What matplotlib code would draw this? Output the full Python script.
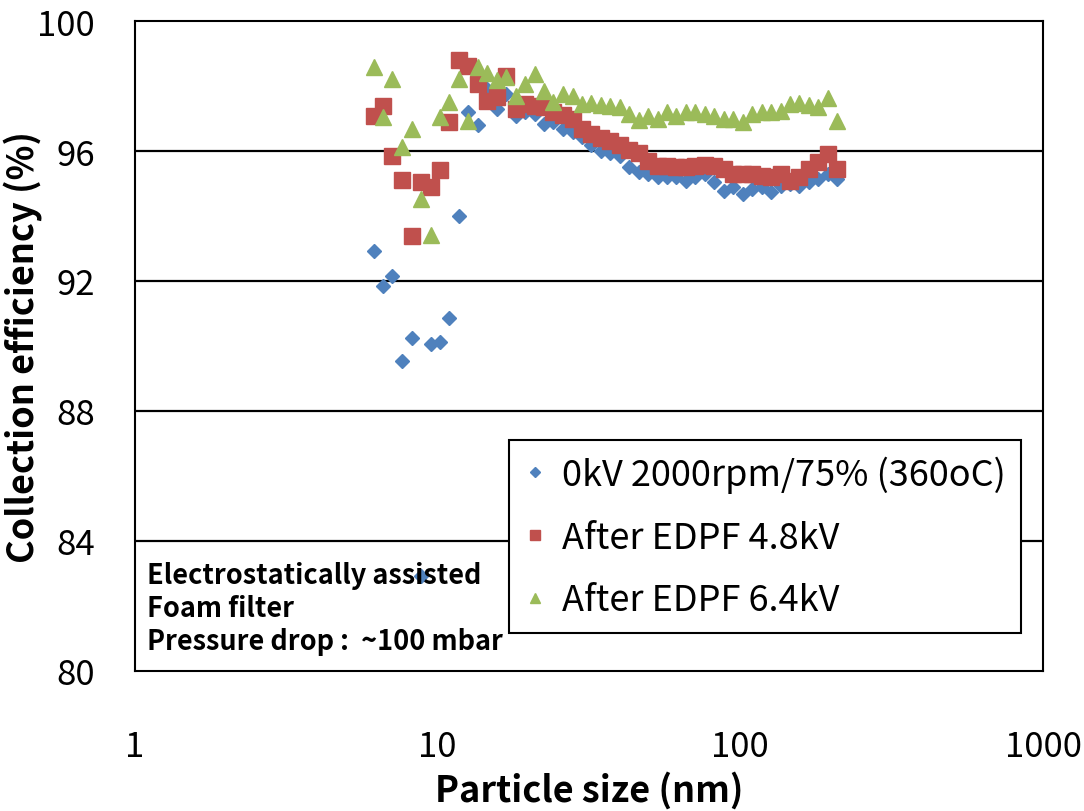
import matplotlib
matplotlib.use("Agg")
import matplotlib.pyplot as plt
from matplotlib.ticker import FixedLocator, NullLocator, FixedFormatter

plt.rcParams['font.family'] = ['Noto Sans CJK KR', 'DejaVu Sans']

# Particle size channels (nm)
size_nm = [6.15, 6.61, 7.09, 7.64, 8.20, 8.81, 9.47, 10.2, 10.9, 11.8,
           12.6, 13.6, 14.6, 15.7, 16.8, 18.1, 19.5, 20.9, 22.5, 24.1,
           25.9, 27.9, 30.0, 32.2, 34.6, 37.2, 40.0, 43.0, 46.1, 49.6,
           53.3, 57.3, 61.5, 66.1, 71.0, 76.4, 82.0, 88.2, 94.7, 101.8,
           109.4, 117.6, 126.3, 135.8, 145.9, 156.8, 168.5, 181.1, 194.6, 209.1]

eff_0kv = [92.91, 91.84, 92.14, 89.55, 90.26, 82.92, 90.05, 90.11, 90.85, 94.01,
           97.19, 96.80, 97.90, 97.30, 97.75, 97.08, 97.20, 97.14, 96.83, 96.90,
           96.68, 96.60, 96.43, 96.20, 96.00, 95.95, 95.86, 95.50, 95.34, 95.30,
           95.19, 95.19, 95.19, 95.09, 95.19, 95.29, 95.04, 94.78, 94.88, 94.68,
           94.83, 94.88, 94.73, 94.93, 94.98, 94.93, 95.04, 95.14, 95.29, 95.14]

eff_48kv = [97.09, 97.40, 95.86, 95.10, 93.37, 95.04, 94.88, 95.41, 96.88, 98.81,
            98.63, 98.06, 97.55, 97.65, 98.32, 97.30, 97.45, 97.40, 97.35, 97.20,
            97.10, 96.98, 96.68, 96.52, 96.40, 96.30, 96.20, 96.03, 95.93, 95.70,
            95.55, 95.55, 95.50, 95.50, 95.55, 95.57, 95.55, 95.45, 95.30, 95.30,
            95.29, 95.24, 95.19, 95.29, 95.09, 95.19, 95.45, 95.65, 95.90, 95.45]

eff_64kv = [98.58, 97.04, 98.22, 96.11, 96.68, 94.52, 93.42, 97.04, 97.50, 98.22,
            96.93, 98.58, 98.40, 98.20, 98.28, 97.70, 98.06, 98.37, 97.86, 97.50,
            97.75, 97.70, 97.45, 97.48, 97.42, 97.37, 97.34, 97.14, 96.96, 97.07,
            97.00, 97.19, 97.07, 97.19, 97.19, 97.14, 97.07, 96.98, 96.98, 96.88,
            97.14, 97.19, 97.19, 97.24, 97.45, 97.48, 97.42, 97.34, 97.62, 96.93]

series_labels = ['0kV 2000rpm/75% (360oC)', 'After EDPF 4.8kV', 'After EDPF 6.4kV']
x_ticks = [1, 10, 100, 1000]
x_tick_labels = ['1', '10', '100', '1000']
y_ticks = [80, 84, 88, 92, 96, 100]
note_lines = ['Electrostatically assisted', 'Foam filter', 'Pressure drop :  ~100 mbar']

fig = plt.figure(figsize=(10.84, 8.12), dpi=100)
ax = fig.add_axes([135/1084, 1 - 672/812, 908/1084, 650/812])

ax.set_xscale('log')
ax.set_xlim(1, 1000)
ax.set_ylim(80, 100)

for yv in y_ticks[1:-1]:
    ax.axhline(yv, color='black', lw=1.6, zorder=1)

ax.plot(size_nm, eff_0kv, linestyle='none', marker='D', ms=7.4,
        color='#4F81BD', label=series_labels[0], zorder=3)
ax.plot(size_nm, eff_48kv, linestyle='none', marker='s', ms=11.5,
        color='#C0504D', label=series_labels[1], zorder=4)
ax.plot(size_nm, eff_64kv, linestyle='none', marker='^', ms=11.5,
        color='#9BBB59', label=series_labels[2], zorder=5)

ax.xaxis.set_major_locator(FixedLocator(x_ticks))
ax.xaxis.set_major_formatter(FixedFormatter(x_tick_labels))
ax.xaxis.set_minor_locator(NullLocator())
ax.set_yticks(y_ticks)
ax.tick_params(axis='both', length=0, labelsize=25)
ax.tick_params(axis='x', pad=42)
ax.tick_params(axis='y', pad=29)

for sp in ax.spines.values():
    sp.set_linewidth(1.5)
    sp.set_color('black')

ax.set_xlabel('Particle size (nm)', fontsize=26, fontweight='bold', va='center')
ax.xaxis.set_label_coords(0.5, -0.183)
ax.set_ylabel('Collection efficiency (%)', fontsize=26, fontweight='bold', va='center')
ax.yaxis.set_label_coords(-0.124, 0.5)

leg = ax.legend(loc='upper left', bbox_to_anchor=(0.412, 0.355), fontsize=26,
                frameon=True, fancybox=False, edgecolor='black', framealpha=1,
                borderpad=0.42, labelspacing=0.74, handlelength=0.6,
                handletextpad=0.45, borderaxespad=0, markerscale=0.65)
leg.get_frame().set_linewidth(1.5)
leg.set_zorder(10)

note_y = [(672 - 584) / 650, (672 - 617) / 650, (672 - 650) / 650]
for line, yy in zip(note_lines, note_y):
    ax.text(12 / 908, yy, line, transform=ax.transAxes,
            fontsize=19.5, fontweight='bold', ha='left', va='baseline', zorder=11)

fig.savefig('out.png', dpi=100, facecolor='white')
